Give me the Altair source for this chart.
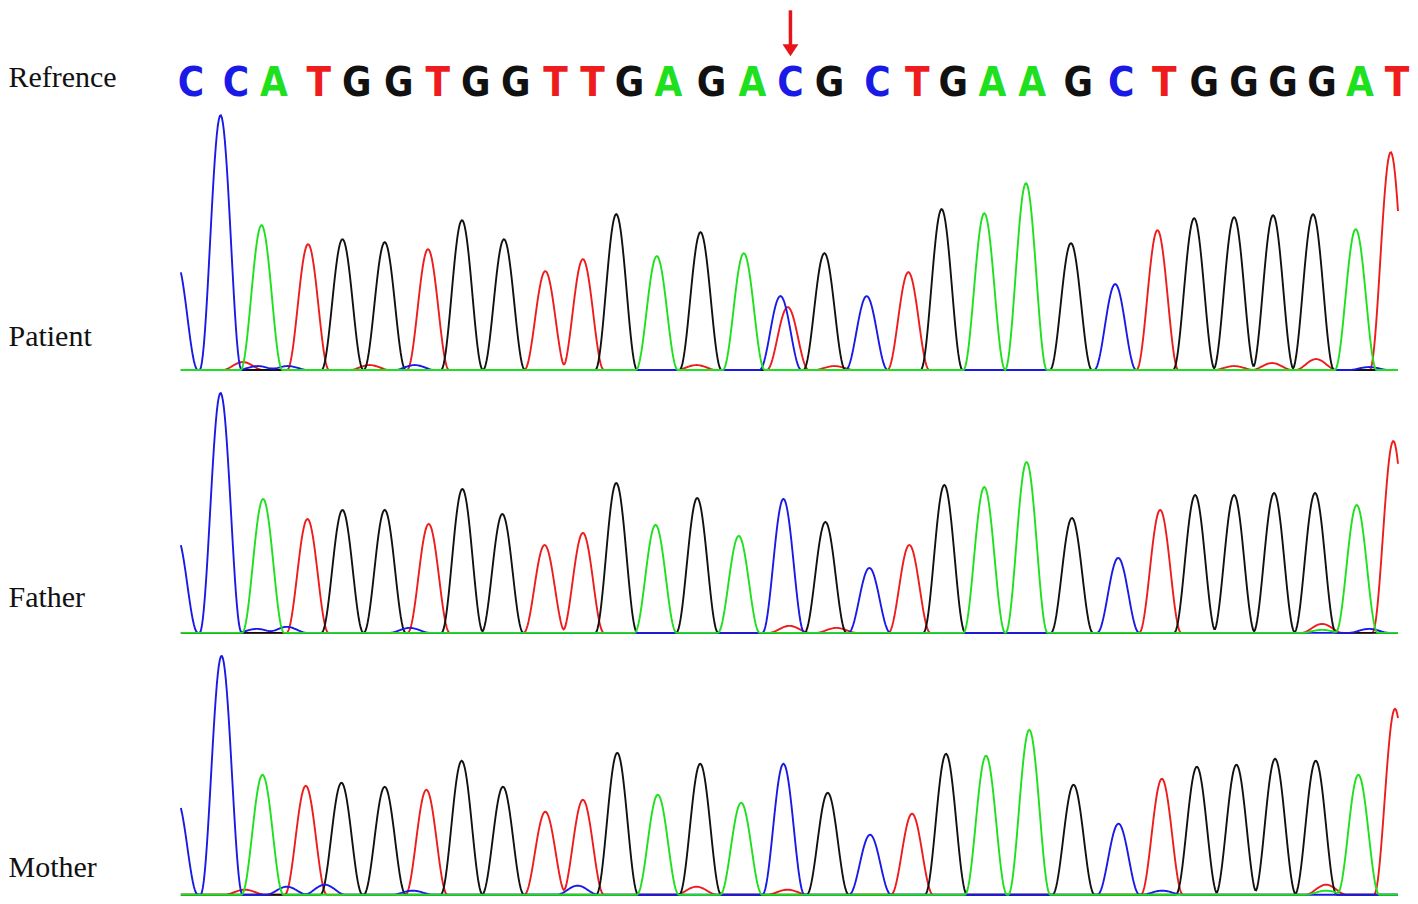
import altair as alt
import numpy as np
import pandas as pd

# ---------------- data ----------------
BASES = ["A", "C", "G", "T"]
BASE_COLORS = ["#1ee01e", "#1a1ae6", "#111111", "#ee1c1c"]
DRAW_ORDER = ["T", "G", "C", "A"]  # green ends up on top at the baseline

REF_SEQ = list("CCATGGTGGTTGAGACGCTGAAGCTGGGGAT")
REF_POS = [191, 236, 274, 319, 357, 399, 438, 476, 516, 556, 593, 630, 669, 712,
           753, 791, 830, 878, 918, 954, 993, 1033, 1079, 1122, 1165, 1205, 1245,
           1284, 1323, 1361, 1398]
VARIANT_INDEX = 15  # the C marked with the red arrow

# Patient
PAT_POS = [177, 220.7, 261.7, 308.3, 342.7, 385, 428.3, 462.3, 504.3, 545.7, 583.3,
           616.7, 657.3, 701, 744.3, 781, 788.3, 825, 867.3, 909, 942.3, 985,
           1026.7, 1071.7, 1116, 1158.3, 1195, 1235, 1274, 1314, 1356.7, 1391.7]
PAT_BASE = list("CCATGGTGGTTGAGACTGCTGAAGCTGGGGAT")
PAT_H = [107, 255, 145, 126, 131, 128, 121, 150, 131, 99, 111, 156, 114, 138, 117,
         74, 63, 117, 74, 98, 161, 157, 187, 127, 86, 140, 152, 153, 155, 156, 141, 218]
PAT_MINOR_POS = [243, 258, 288, 370, 415, 697, 835, 1235, 1273, 1317, 1370]
PAT_MINOR_BASE = list("TCCTCTTTTTC")
PAT_MINOR_H = [8, 4, 4, 5, 5, 5, 4, 4, 7, 11, 3]

# Father
FAT_POS = [177, 220.7, 263.3, 307.7, 342.7, 385, 429, 462.7, 502.7, 545, 583.3,
           616.7, 656, 697.7, 739.3, 784, 826, 870, 910, 945, 985, 1027.3, 1072.7,
           1119, 1161, 1196, 1235, 1275, 1316, 1357.7, 1394.3]
FAT_BASE = list("CCATGGTGGTTGAGACGCTGAAGCTGGGGAT")
FAT_H = [96, 240, 134, 114, 123, 123, 109, 144, 119, 88, 100, 150, 108, 135, 97,
         134, 111, 65, 88, 148, 146, 171, 115, 75, 123, 138, 138, 140, 140, 128, 192]
FAT_MINOR_POS = [257, 287, 410, 790, 837, 1323, 1323, 1370]
FAT_MINOR_BASE = list("CCCTTTAC")
FAT_MINOR_H = [4, 6, 5, 7, 5, 9, 3, 4]

# Mother
MOT_POS = [177, 221.7, 262.7, 306, 341.7, 385, 426.7, 462, 503.3, 545.7, 583.3,
           617.7, 658.3, 700.7, 741.7, 784, 828.3, 870.7, 912.7, 946.7, 986.7, 1030,
           1074.3, 1119.3, 1162.7, 1197.7, 1237.3, 1276, 1316.7, 1359.3, 1396]
MOT_BASE = list("CCATGGTGGTTGAGACGCTGAAGCTGGGGAT")
MOT_H = [95, 239, 120, 109, 112, 108, 105, 134, 108, 83, 95, 142, 100, 131, 92,
         131, 102, 60, 81, 141, 139, 165, 110, 71, 116, 128, 130, 136, 134, 120, 186]
MOT_MINOR_POS = [245, 287, 325, 413, 578, 697, 788, 1163, 1327, 1327]
MOT_MINOR_BASE = list("TCCCCTTCTA")
MOT_MINOR_H = [5, 8, 10, 4, 9, 8, 5, 4, 10, 4]

SCAN_START, SCAN_END = 181, 1399
PEAK_HALF_WIDTH = 21

# ---------------- build traces from the peak tables ----------------
def build_trace(pos, bases, heights, mpos, mbases, mheights):
    xs = np.arange(SCAN_START, SCAN_END + 0.01, 1.0)
    sig = {b: np.zeros_like(xs) for b in BASES}
    for p, b, h in list(zip(pos, bases, heights)) + list(zip(mpos, mbases, mheights)):
        d = np.abs(xs - p)
        sig[b] += np.where(d < PEAK_HALF_WIDTH,
                           h * np.cos(np.pi * d / (2 * PEAK_HALF_WIDTH)) ** 2, 0.0)
    frames = [pd.DataFrame({"scan": xs, "signal": np.round(sig[b], 2), "base": b})
              for b in DRAW_ORDER]
    return pd.concat(frames, ignore_index=True)


x_scale = alt.Scale(domain=[178, 1410], nice=False, zero=False)
color_scale = alt.Scale(domain=BASES, range=BASE_COLORS)
PLOT_W = 1232


def title_axis(name, title_y):
    return alt.Axis(title=name, labels=False, ticks=False, domain=False, grid=False,
                    titleAngle=0, titleAlign="left", titleBaseline="alphabetic",
                    titleX=-170, titleY=title_y, titleFont="Liberation Serif",
                    titleFontSize=30, titleFontWeight="normal", titleColor="#111111")


def panel(name, df, ydom, height, title_y):
    return alt.Chart(df).mark_line(strokeWidth=1.9, clip=True).encode(
        x=alt.X("scan:Q", scale=x_scale, axis=None),
        y=alt.Y("signal:Q", scale=alt.Scale(domain=ydom, nice=False, zero=False),
                axis=title_axis(name, title_y)),
        color=alt.Color("base:N", scale=color_scale, legend=None),
        order=alt.Order("scan:Q"),
    ).properties(width=PLOT_W, height=height)


# Reference row
ref_df = pd.DataFrame({"pos": REF_POS, "base": REF_SEQ, "track": "Refrence"})
letters = alt.Chart(ref_df).mark_text(
    font="Liberation Sans Narrow, DejaVu Sans Condensed, Liberation Sans, Arial",
    fontWeight="bold", fontSize=40, baseline="alphabetic", dy=37.5
).encode(
    x=alt.X("pos:Q", scale=x_scale, axis=None),
    y=alt.Y("track:N", axis=title_axis("Refrence", 76)),
    text="base:N",
    color=alt.Color("base:N", scale=color_scale, legend=None),
)
arrow_df = pd.DataFrame({"pos": [REF_POS[VARIANT_INDEX]]})
shaft = alt.Chart(arrow_df).mark_rule(color="#e8141c", strokeWidth=3.5).encode(
    x=alt.X("pos:Q", scale=x_scale, axis=None), y=alt.value(0), y2=alt.value(37))
head = alt.Chart(arrow_df).mark_point(
    shape="M-1,-0.75L1,-0.75L0,0.75Z", size=256, filled=True, color="#e8141c", opacity=1
).encode(x=alt.X("pos:Q", scale=x_scale, axis=None), y=alt.value(40))
ref_row = alt.layer(letters, shaft, head).properties(width=PLOT_W, height=97)

patient = panel("Patient", build_trace(PAT_POS, PAT_BASE, PAT_H,
                                      PAT_MINOR_POS, PAT_MINOR_BASE, PAT_MINOR_H),
                [-5, 263], 268, 238)
father = panel("Father", build_trace(FAT_POS, FAT_BASE, FAT_H,
                                    FAT_MINOR_POS, FAT_MINOR_BASE, FAT_MINOR_H),
               [-5, 258], 263, 232)
mother = panel("Mother", build_trace(MOT_POS, MOT_BASE, MOT_H,
                                    MOT_MINOR_POS, MOT_MINOR_BASE, MOT_MINOR_H),
               [-5, 257], 262, 239)

chart = alt.vconcat(ref_row, patient, father, mother, spacing=0, bounds="flush").properties(
    padding=0, background="white"
).configure_view(stroke=None)

chart.save("out.html", embed_options={"renderer": "svg", "actions": False})
